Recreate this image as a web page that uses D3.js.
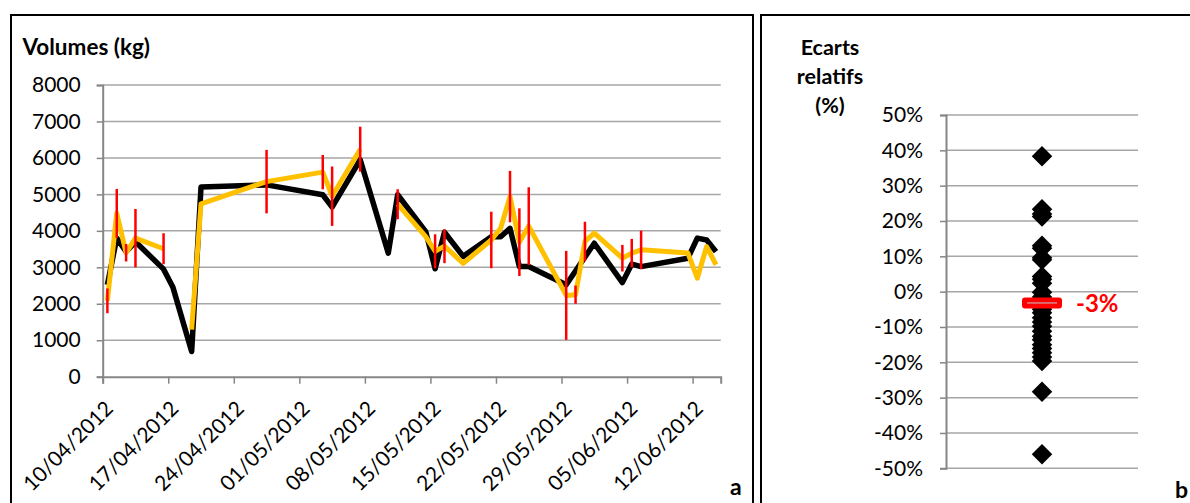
<!DOCTYPE html>
<html><head><meta charset="utf-8">
<script src="https://cdn.jsdelivr.net/npm/d3@7"></script>
<style>body{margin:0;background:#fff} text{font-family:Lato,"Open Sans",sans-serif}</style>
</head><body><svg id="c" width="1190" height="503"></svg>
<script>
// ---------- DATA ----------
const dates = ["10/04/2012","11/04/2012","12/04/2012","13/04/2012","16/04/2012","17/04/2012","19/04/2012","20/04/2012",
  "27/04/2012","03/05/2012","04/05/2012","07/05/2012","10/05/2012","11/05/2012","14/05/2012","15/05/2012","16/05/2012",
  "18/05/2012","21/05/2012","22/05/2012","23/05/2012","24/05/2012","25/05/2012","29/05/2012","30/05/2012","31/05/2012",
  "01/06/2012","04/06/2012","05/06/2012","06/06/2012","11/06/2012","12/06/2012","13/06/2012","14/06/2012"];
const blackSeries = [2520,3800,3430,3700,2950,2450,690,5200,5260,4990,4650,5950,3390,4990,3980,2960,3960,
  3300,3840,3840,4070,3020,3020,2520,null,null,3660,2580,3090,3020,3250,3800,3750,3430];
const orangeSeries = [2080,4480,3400,3800,3510,null,1290,4740,5350,5610,4950,6240,null,4730,3840,3440,3580,
  3110,3750,4070,4940,3690,4130,2230,2250,3710,3940,3250,3390,3480,3390,2700,3570,3070];
const orangeErrors = [340,670,240,800,425,null,null,null,870,470,815,617,null,411,null,466,466,
  null,776,null,705,928,1065,1220,250,540,null,365,390,525,null,null,null,null];
const yTicks = [0,1000,2000,3000,4000,5000,6000,7000,8000];
const xTickLabels = ["10/04/2012","17/04/2012","24/04/2012","01/05/2012","08/05/2012","15/05/2012",
  "22/05/2012","29/05/2012","05/06/2012","12/06/2012"];
const xDomain = ["10/04/2012","15/06/2012"];
const ecarts = [38.3,23.3,22.0,21.3,13.0,12.3,9.6,9.0,4.3,3.5,2.4,-0.2,-1.5,-5.0,-6.0,-7.4,-8.6,-9.8,
  -11.2,-12.6,-13.6,-15.0,-16.1,-17.3,-18.5,-19.6,-28.3,-46.0];
const ecartTicks = [-50,-40,-30,-20,-10,0,10,20,30,40,50];
const meanEcart = -3.2;
const meanLabel = "-3%";

// ---------- DRAW ----------
const svg = d3.select("#c");
svg.append("rect").attr("width",1190).attr("height",503).attr("fill","#fff");
svg.append("rect").attr("x",11).attr("y",15).attr("width",742).attr("height",520)
  .attr("fill","none").attr("stroke","#000").attr("stroke-width",2);
svg.append("rect").attr("x",761).attr("y",15).attr("width",450).attr("height",520)
  .attr("fill","none").attr("stroke","#000").attr("stroke-width",2);

const parse = d3.utcParse("%d/%m/%Y");
const x = d3.scaleUtc().domain(xDomain.map(parse)).range([102.7,720.7]);
const y = d3.scaleLinear().domain([0,8000]).range([376.7,85]);
const px = s => x(d3.utcHour.offset(parse(s),12));

const gridC = "#a6a6a6", axisC = "#868686";
const FS = 21;

// gridlines
svg.append("g").selectAll("line").data(yTicks.filter(v=>v>0)).join("line")
  .attr("x1",x.range()[0]).attr("x2",x.range()[1]).attr("y1",d=>y(d)).attr("y2",d=>y(d))
  .attr("stroke",gridC).attr("stroke-width",1.5);

// y axis
const ya = svg.append("g").attr("transform",`translate(${x.range()[0]},0)`)
  .call(d3.axisLeft(y).tickValues(yTicks).tickSize(6).tickPadding(16).tickFormat(d3.format("d")));
ya.select(".domain").attr("stroke",axisC).attr("stroke-width",2);
ya.selectAll(".tick line").attr("stroke",axisC).attr("stroke-width",1.5);
ya.selectAll("text").attr("font-size",FS).attr("fill","#000").attr("font-family","Lato");

// x axis
const xa = svg.append("g").attr("transform",`translate(0,${y(0)})`)
  .call(d3.axisBottom(x).tickValues(xTickLabels.map(parse)).tickSize(7).tickFormat(d3.utcFormat("%d/%m/%Y")));
xa.select(".domain").attr("stroke",axisC).attr("stroke-width",2);
xa.selectAll(".tick line").attr("stroke",axisC).attr("stroke-width",1.5);
xa.selectAll("text").attr("font-size",FS).attr("fill","#000").attr("font-family","Lato")
  .attr("text-anchor","end").attr("y",0).attr("dy","0.35em")
  .attr("transform","translate(6,28) rotate(-45)");

// lines
const rows = dates.map((d,i)=>({d, b:blackSeries[i], o:orangeSeries[i], e:orangeErrors[i]}));
svg.append("path").datum(rows.filter(r=>r.b!=null))
  .attr("d", d3.line().x(r=>px(r.d)).y(r=>y(r.b)))
  .attr("fill","none").attr("stroke","#000").attr("stroke-width",5.5).attr("stroke-linejoin","round");
svg.append("path").datum(rows)
  .attr("d", d3.line().defined(r=>r.o!=null).x(r=>px(r.d)).y(r=>y(r.o)))
  .attr("fill","none").attr("stroke","#FFC000").attr("stroke-width",5).attr("stroke-linejoin","round");
svg.append("g").selectAll("line").data(rows.filter(r=>r.e!=null)).join("line")
  .attr("x1",r=>px(r.d)).attr("x2",r=>px(r.d))
  .attr("y1",r=>y(r.o+r.e)).attr("y2",r=>y(r.o-r.e))
  .attr("stroke","#FF0000").attr("stroke-width",2.5);

svg.append("text").attr("x",22.5).attr("y",55).attr("font-size",22.5).attr("font-weight","bold")
  .text("Volumes (kg)");
svg.append("text").attr("x",730).attr("y",495).attr("font-size",23).attr("font-weight","bold").text("a");

// ---------- RIGHT CHART ----------
const yR = d3.scaleLinear().domain([-50,50]).range([468.3,115]);
const xR = d3.scaleBand().domain(["ecarts"]).range([946,1138]);
const cx = xR("ecarts") + xR.bandwidth()/2;

svg.append("g").selectAll("line").data(ecartTicks).join("line")
  .attr("x1",946).attr("x2",1138).attr("y1",d=>yR(d)).attr("y2",d=>yR(d))
  .attr("stroke",gridC).attr("stroke-width",1.5);
const yra = svg.append("g").attr("transform","translate(946,0)")
  .call(d3.axisLeft(yR).tickValues(ecartTicks).tickSize(6).tickPadding(17).tickFormat(d=>d+"%"));
yra.select(".domain").attr("stroke",axisC).attr("stroke-width",2);
yra.selectAll(".tick line").attr("stroke",axisC).attr("stroke-width",1.5);
yra.selectAll("text").attr("font-size",FS).attr("fill","#000").attr("font-family","Lato");

svg.append("g").selectAll("path").data(ecarts).join("path")
  .attr("d", d3.symbol().type(d3.symbolSquare).size(210))
  .attr("transform", d=>`translate(${cx},${yR(d)}) rotate(45)`)
  .attr("fill","#000");

svg.append("rect").attr("x",cx-20).attr("y",yR(meanEcart)-5.5).attr("width",40).attr("height",11)
  .attr("rx",3).attr("fill","#FF0000");
svg.append("line").attr("x1",cx-15).attr("x2",cx+15).attr("y1",yR(meanEcart)).attr("y2",yR(meanEcart))
  .attr("stroke","#d08a8a").attr("stroke-width",1.5);
svg.append("text").attr("x",1076).attr("y",yR(meanEcart)).attr("dy","0.38em").attr("font-size",24)
  .attr("font-weight","bold").attr("fill","#FF0000").text(meanLabel);

const tl = ["Ecarts","relatifs","(%)"];
svg.append("g").selectAll("text").data(tl).join("text")
  .attr("x",830).attr("y",(d,i)=>55+i*29).attr("text-anchor","middle")
  .attr("font-size",21.5).attr("font-weight","bold").text(d=>d);
svg.append("text").attr("x",1175).attr("y",498).attr("font-size",23).attr("font-weight","bold").text("b");
</script></body></html>
